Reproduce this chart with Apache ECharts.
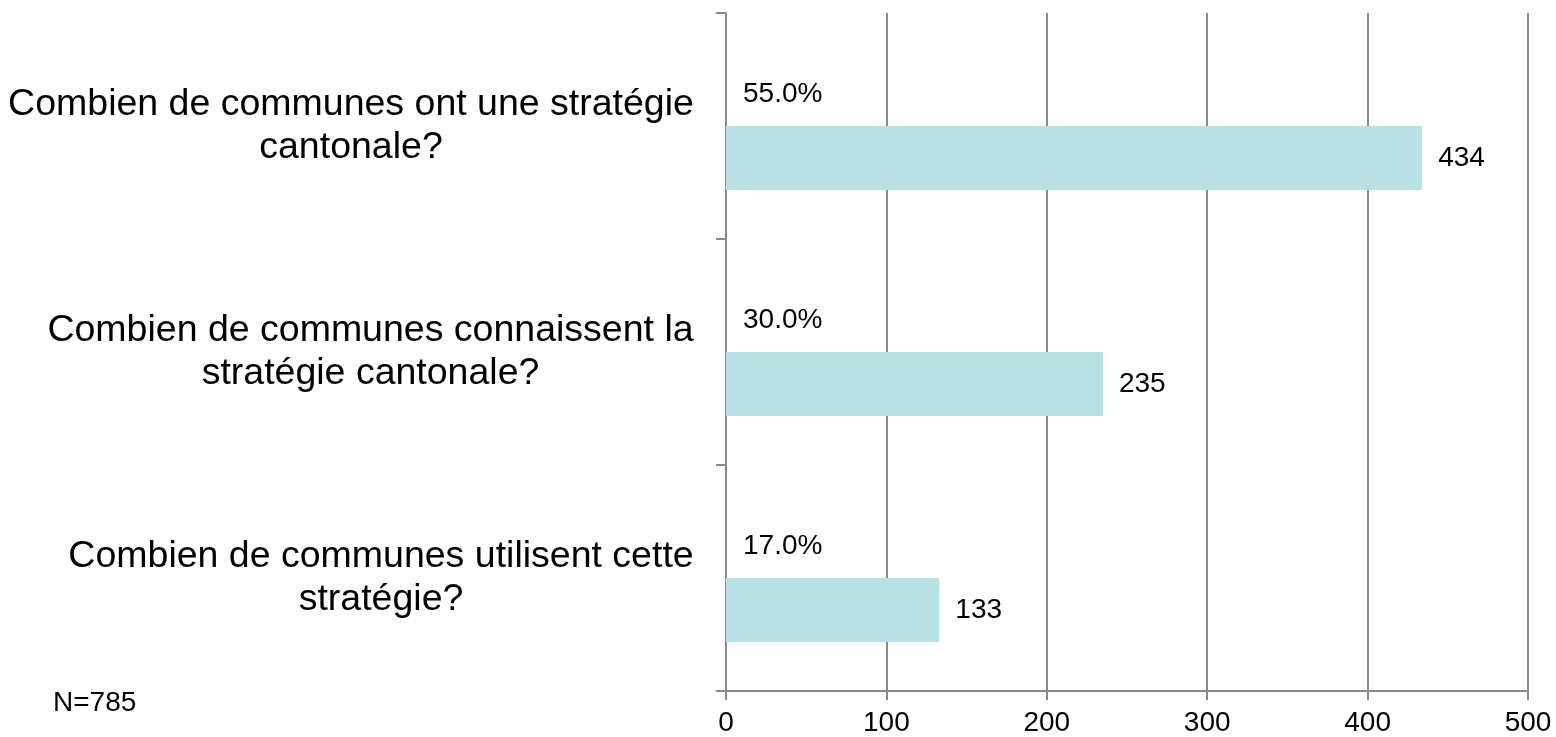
<!DOCTYPE html>
<html>
<head>
<meta charset="utf-8">
<script src="https://cdn.jsdelivr.net/npm/echarts@6/dist/echarts.min.js"></script>
<style>
  html, body { margin: 0; padding: 0; background: #fff; }
  #chart { width: 1556px; height: 737px; }
</style>
</head>
<body>
<div id="chart"></div>
<script>
// Chart data
const categories = [
  'Combien de communes ont une stratégie\ncantonale?',
  'Combien de communes connaissent la\nstratégie cantonale?',
  'Combien de communes utilisent cette\nstratégie?'
];
const counts = [434, 235, 133];
const shares = [55.0, 30.0, 17.0];
const xTicks = [0, 100, 200, 300, 400, 500];
const note = 'N=785';

const FONT = '"Liberation Sans", Arial, sans-serif';
const GREY = '#8a8a8a';
const CAT_SIZE = 37.5;

// Measure each label block so its lines can be centred on one another
// while the block itself stays right-aligned against the axis.
const ctx = document.createElement('canvas').getContext('2d');
ctx.font = CAT_SIZE + 'px ' + FONT;
const rich = {};
categories.forEach((c, i) => {
  const w = Math.max(...c.split('\n').map(l => ctx.measureText(l).width));
  rich['c' + i] = { width: Math.ceil(w), align: 'center', fontSize: CAT_SIZE, lineHeight: 43, color: '#000', fontFamily: FONT };
});

const chart = echarts.init(document.getElementById('chart'), null, { renderer: 'canvas' });

chart.setOption({
  animation: false,
  backgroundColor: '#ffffff',
  textStyle: { fontFamily: FONT, color: '#000' },
  grid: { left: 726, right: 28, top: 13, bottom: 45, containLabel: false },
  graphic: [{
    type: 'text',
    left: 53,
    top: 689,
    style: { text: note, font: '28px ' + FONT, fill: '#000' }
  }],
  xAxis: {
    type: 'value',
    min: xTicks[0],
    max: xTicks[xTicks.length - 1],
    interval: xTicks[1] - xTicks[0],
    axisLine: { show: true, lineStyle: { color: GREY, width: 2 } },
    axisTick: { show: true, length: 9, lineStyle: { color: GREY, width: 2 } },
    splitLine: { show: true, lineStyle: { color: GREY, width: 2 } },
    axisLabel: { fontSize: 28, color: '#000', margin: 18, fontFamily: FONT }
  },
  yAxis: {
    type: 'category',
    data: categories,
    inverse: true,
    axisLine: { show: true, lineStyle: { color: GREY, width: 2 } },
    axisTick: { show: true, length: 10, alignWithLabel: false, lineStyle: { color: GREY, width: 2 } },
    axisLabel: {
      fontSize: CAT_SIZE, lineHeight: 43, color: '#000', margin: 32,
      align: 'right', fontFamily: FONT,
      formatter: (val, idx) => val.split('\n').map(l => '{c' + idx + '|' + l + '}').join('\n'),
      rich: rich
    }
  },
  series: [
    {
      name: 'share',
      type: 'bar',
      data: shares.map(() => 0),
      barWidth: 64,
      barGap: '0%',
      itemStyle: { color: 'rgba(0,0,0,0)' },
      label: {
        show: true,
        position: 'right',
        distance: 17,
        fontSize: 28,
        color: '#000',
        fontFamily: FONT,
        formatter: p => shares[p.dataIndex].toFixed(1) + '%'
      },
      silent: true
    },
    {
      name: 'count',
      type: 'bar',
      data: counts,
      barWidth: 64,
      barGap: '0%',
      itemStyle: { color: '#b9e0e3' },
      label: {
        show: true,
        position: 'right',
        distance: 16,
        fontSize: 28,
        color: '#000',
        fontFamily: FONT
      }
    }
  ]
});

window.addEventListener('resize', () => chart.resize());
</script>
</body>
</html>
